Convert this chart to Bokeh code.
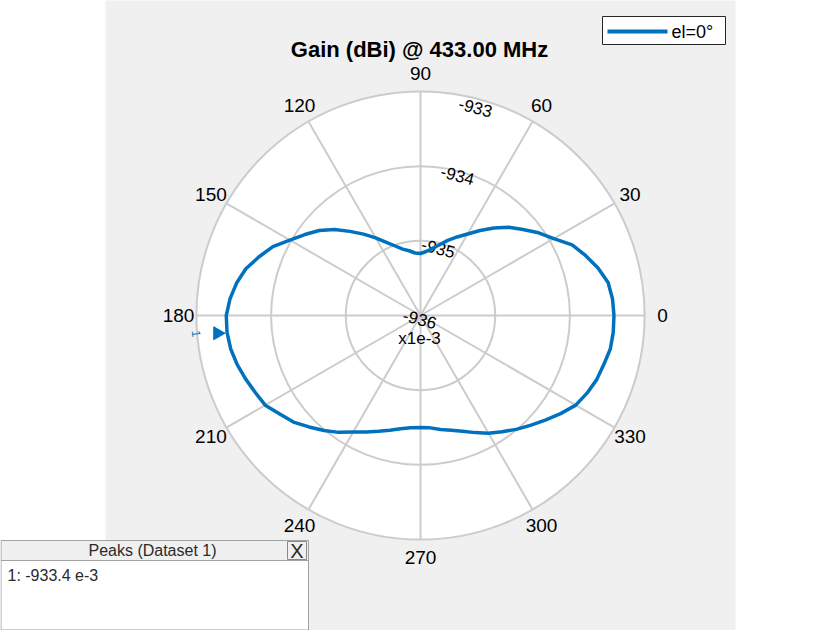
import numpy as np
from bokeh.plotting import figure
from bokeh.models import Range1d
from bokeh.core.properties import value
from bokeh.embed import file_html
from bokeh.resources import INLINE

# ---------------- data ----------------
angles_deg = [0, 5, 10, 15, 20, 25, 30, 35, 40, 45, 50, 55,
              60, 65, 70, 75, 80, 85, 90, 95, 100, 105, 110, 115,
              120, 125, 130, 135, 140, 145, 150, 155, 160, 165, 170, 175,
              180, 185, 190, 195, 200, 205, 210, 215, 220, 225, 230, 235,
              240, 245, 250, 255, 260, 265, 270, 275, 280, 285, 290, 295,
              300, 305, 310, 315, 320, 325, 330, 335, 340, 345, 350, 355]
# gain in units of 1e-3 dBi
gain_milli = [-933.41, -933.42, -933.45, -933.54, -933.65, -933.76, -933.94, -934.07,
              -934.21, -934.33, -934.47, -934.61, -934.74, -934.84, -934.93, -935.02,
              -935.09, -935.14, -935.17, -935.16, -935.12, -935.08, -935.01, -934.92,
              -934.80, -934.67, -934.53, -934.37, -934.23, -934.11, -933.98, -933.82,
              -933.70, -933.58, -933.50, -933.44, -933.40, -933.40, -933.42, -933.46,
              -933.51, -933.56, -933.60, -933.70, -933.78, -933.89, -933.99, -934.09,
              -934.20, -934.28, -934.35, -934.41, -934.46, -934.49, -934.50, -934.49,
              -934.45, -934.41, -934.35, -934.27, -934.18, -934.10, -934.01, -933.92,
              -933.82, -933.71, -933.60, -933.54, -933.49, -933.46, -933.42, -933.41]
ring_values = [-936, -935, -934, -933]
ring_labels = ["-936", "-935", "-934", "-933"]
angle_ticks = [0, 30, 60, 90, 120, 150, 180, 210, 240, 270, 300, 330]
angle_tick_labels = [str(a) for a in angle_ticks]
peak_angle = [185]
peak_value = [-933.4]
series_name = "el=0°"
title_text = "Gain (dBi) @ 433.00 MHz"
peaks_title = "Peaks (Dataset 1)"
peaks_rows = ["1: -933.4 e-3"]

# ---------------- geometry helpers ----------------
W, H = 840, 630
S = 74.7           # pixels per 1e-3 dB
CX, CY = 420, 315  # centre of polar plot in pixels
def X(sx):
    return (sx - CX) / S
def Y(sy):
    return (CY - sy) / S

r0 = ring_values[0]
rmax = ring_values[-1] - r0
FONT = value("Liberation Sans")
BLUE = "#0072BD"
GRID = "#cccccc"

p = figure(width=W, height=H, x_range=Range1d(X(0), X(W)), y_range=Range1d(Y(H), Y(0)),
           output_backend="svg", toolbar_location=None, min_border=0)
p.axis.visible = False
p.grid.visible = False
p.outline_line_color = None
p.background_fill_color = "white"
p.border_fill_color = "white"

# grey figure area
p.quad(left=[X(105)], right=[X(735)], bottom=[Y(H + 10)], top=[Y(-10)],
       fill_color="#f0f0f0", line_color=None)

# white polar disc
p.circle(x=[0], y=[0], radius=[rmax], fill_color="white", line_color=None)
# rings
ring_r = [v - r0 for v in ring_values[1:]]
p.circle(x=[0] * len(ring_r), y=[0] * len(ring_r), radius=ring_r,
         fill_color=None, line_color=GRID, line_width=2)
# spokes
th = np.deg2rad(angle_ticks)
p.segment(x0=[0] * len(th), y0=[0] * len(th), x1=list(rmax * np.cos(th)), y1=list(rmax * np.sin(th)),
          line_color=GRID, line_width=2)

# angle tick labels
lab_r = 242 / S
p.text(x=list(lab_r * np.cos(th)), y=list(lab_r * np.sin(th)), text=angle_tick_labels,
       text_align="center", text_baseline="middle", text_font=FONT,
       text_font_size="19px", text_color="#000000")

# magnitude labels (rotated along rings)
mag_ang = np.deg2rad(75.2)
offs = [0, 0.07, 0.06, 0.12]
mx, my, mt = [], [], []
for v, lab, o in zip(ring_values[1:], ring_labels[1:], offs[1:]):
    rr = v - r0 - o
    mx.append(rr * np.cos(mag_ang))
    my.append(rr * np.sin(mag_ang))
    mt.append(lab)
p.text(x=mx, y=my, text=mt, angle=np.deg2rad(-14.8), text_align="center", text_baseline="middle",
       text_font=FONT, text_font_size="17px", text_color="#000000")
p.text(x=[X(419.3)], y=[Y(318.7)], text=[ring_labels[0]], angle=np.deg2rad(-14.8),
       text_align="center", text_baseline="middle", text_font=FONT, text_font_size="17px")
p.text(x=[X(419)], y=[Y(338)], text=["x1e-3"], text_align="center", text_baseline="middle",
       text_font=FONT, text_font_size="17px")

# pattern curve
a = np.deg2rad(angles_deg + [angles_deg[0]])
rg = np.array(gain_milli + [gain_milli[0]]) - r0
p.line(x=list(rg * np.cos(a)), y=list(rg * np.sin(a)), line_color=BLUE, line_width=3.5,
       line_join="round")

# peak marker
pa = np.deg2rad(peak_angle)
pr = np.array(peak_value) - r0 + 0.128
p.scatter(x=list(pr * np.cos(pa)), y=list(pr * np.sin(pa)), marker="triangle", size=13,
          angle=-np.pi / 2, fill_color=BLUE, line_color=BLUE)
pr2 = np.array(peak_value) - r0 + 0.41
p.text(x=list(pr2 * np.cos(pa)), y=list(pr2 * np.sin(pa) + 0.02), text=["1"], angle=np.deg2rad(-85),
       text_align="center", text_baseline="middle", text_font=FONT, text_font_size="12px",
       text_color=BLUE)

# title
p.text(x=[X(419)], y=[Y(49)], text=[title_text], text_align="center", text_baseline="middle",
       text_font=FONT, text_font_size="22px", text_font_style="bold", text_color="#000000")

# legend
p.quad(left=[X(602)], right=[X(725)], top=[Y(16)], bottom=[Y(44)], fill_color="white",
       line_color="#262626", line_width=1)
p.line(x=[X(607), X(667)], y=[Y(31), Y(31)], line_color=BLUE, line_width=4)
p.text(x=[X(671)], y=[Y(31)], text=[series_name], text_align="left", text_baseline="middle",
       text_font=FONT, text_font_size="18px", text_color="#000000")

# peaks table
p.quad(left=[X(0.5)], right=[X(308)], top=[Y(540)], bottom=[Y(560)], fill_color="#f0f0f0",
       line_color="#a0a0a0", line_width=1)
p.quad(left=[X(0.5)], right=[X(308)], top=[Y(560)], bottom=[Y(629.5)], fill_color="white",
       line_color="#a0a0a0", line_width=1)
p.quad(left=[X(287)], right=[X(306)], top=[Y(541)], bottom=[Y(559)], fill_color="#f0f0f0",
       line_color="#8a8a8a", line_width=1)
p.text(x=[X(152)], y=[Y(550)], text=[peaks_title], text_align="center", text_baseline="middle",
       text_font=FONT, text_font_size="16px", text_color="#2a2a2a")
p.text(x=[X(296.5)], y=[Y(550)], text=["X"], text_align="center", text_baseline="middle",
       text_font=FONT, text_font_size="20px", text_color="#2a2a2a")
p.text(x=[X(7)], y=[Y(575)], text=peaks_rows, text_align="left", text_baseline="middle",
       text_font=FONT, text_font_size="16px", text_color="#2a2a2a")

open("out.html", "w").write(file_html(p, INLINE))
